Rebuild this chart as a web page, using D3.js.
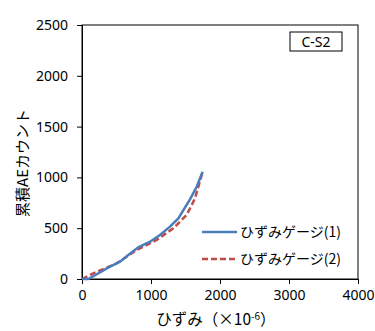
<!DOCTYPE html>
<html>
<head>
<meta charset="utf-8">
<script src="https://cdn.jsdelivr.net/npm/d3@7"></script>
<style>
  body { margin: 0; background: #fff; }
  svg { display: block; }
  text { font-family: "Noto Sans CJK JP", "Noto Sans", sans-serif; fill: #000; }
</style>
</head>
<body>
<div id="chart"></div>
<script>
// strain (x10^-6) vs cumulative AE count
const gauge1X = [0, 91, 406, 551, 671, 816, 986, 1130, 1275, 1396, 1565, 1662, 1749];
const gauge1Y = [0, 0, 121, 170, 236, 312, 367, 433, 515, 597, 784, 908, 1056];
const gauge2X = [0, 164, 502, 792, 1082, 1324, 1517, 1638, 1749];
const gauge2Y = [0, 56, 154, 285, 384, 499, 630, 794, 1056];
const seriesNames = ["ひずみゲージ(1)", "ひずみゲージ(2)"];
const xTicks = [0, 1000, 2000, 3000, 4000];
const yTicks = [0, 500, 1000, 1500, 2000, 2500];

const width = 375, height = 331;
const margin = { left: 82, right: 17, top: 25, bottom: 52 };

const svg = d3.select("#chart").append("svg")
  .attr("width", width)
  .attr("height", height);

const x = d3.scaleLinear().domain([0, 4000]).range([margin.left, width - margin.right]);
const y = d3.scaleLinear().domain([0, 2500]).range([height - margin.bottom, margin.top]);

// plot frame
svg.append("rect")
  .attr("x", x(0)).attr("y", y(2500))
  .attr("width", x(4000) - x(0)).attr("height", y(0) - y(2500))
  .attr("fill", "none").attr("stroke", "#000").attr("stroke-width", 1);

const xAxis = svg.append("g")
  .attr("transform", `translate(0,${y(0)})`)
  .call(d3.axisBottom(x).tickValues(xTicks).tickFormat(d3.format("d")).tickSize(5).tickPadding(6));
const yAxis = svg.append("g")
  .attr("transform", `translate(${x(0)},0)`)
  .call(d3.axisLeft(y).tickValues(yTicks).tickFormat(d3.format("d")).tickSize(5).tickPadding(9));

[xAxis, yAxis].forEach(g => {
  g.selectAll("path").attr("stroke", "#000");
  g.selectAll("line").attr("stroke", "#000");
  g.selectAll("text").style("font-family", "'Noto Sans', sans-serif").style("font-size", "14px").attr("fill", "#000");
});

const line = d3.line().x(d => x(d[0])).y(d => y(d[1]));

svg.append("path")
  .datum(d3.zip(gauge2X, gauge2Y))
  .attr("d", line)
  .attr("fill", "none")
  .attr("stroke", "#be4b48")
  .attr("stroke-width", 2.5)
  .attr("stroke-dasharray", "6,3");

svg.append("path")
  .datum(d3.zip(gauge1X, gauge1Y))
  .attr("d", line)
  .attr("fill", "none")
  .attr("stroke", "#4a7ebb")
  .attr("stroke-width", 2.5);

// legend
const legend = svg.append("g");
[["#4a7ebb", null, 232], ["#be4b48", "6,3", 259]].forEach((s, i) => {
  legend.append("line")
    .attr("x1", 202).attr("x2", 237).attr("y1", s[2]).attr("y2", s[2])
    .attr("stroke", s[0]).attr("stroke-width", 2.5)
    .attr("stroke-dasharray", s[1]);
  legend.append("text")
    .attr("x", 240).attr("y", s[2]).attr("dy", "0.35em")
    .style("font-size", "14px")
    .text(seriesNames[i]);
});

// label box
svg.append("rect")
  .attr("x", 290).attr("y", 32).attr("width", 52).attr("height", 19)
  .attr("fill", "#fff").attr("stroke", "#000");
svg.append("text")
  .attr("x", 316).attr("y", 42).attr("dy", "0.35em")
  .attr("text-anchor", "middle")
  .style("font-family", "'Noto Sans', sans-serif")
  .style("font-size", "14px")
  .text("C-S2");

// axis titles
svg.append("text")
  .attr("transform", "translate(23,163) rotate(-90)")
  .attr("text-anchor", "middle").attr("dy", "0.35em")
  .style("font-size", "15px")
  .text("累積AEカウント");

const xt = svg.append("text")
  .attr("x", 216).attr("y", 325)
  .attr("text-anchor", "middle")
  .style("font-size", "15.5px");
xt.append("tspan").text("ひずみ（×10");
xt.append("tspan").attr("dy", -5).style("font-size", "10px").text("-6");
xt.append("tspan").attr("dy", 5).text("）");
</script>
</body>
</html>
